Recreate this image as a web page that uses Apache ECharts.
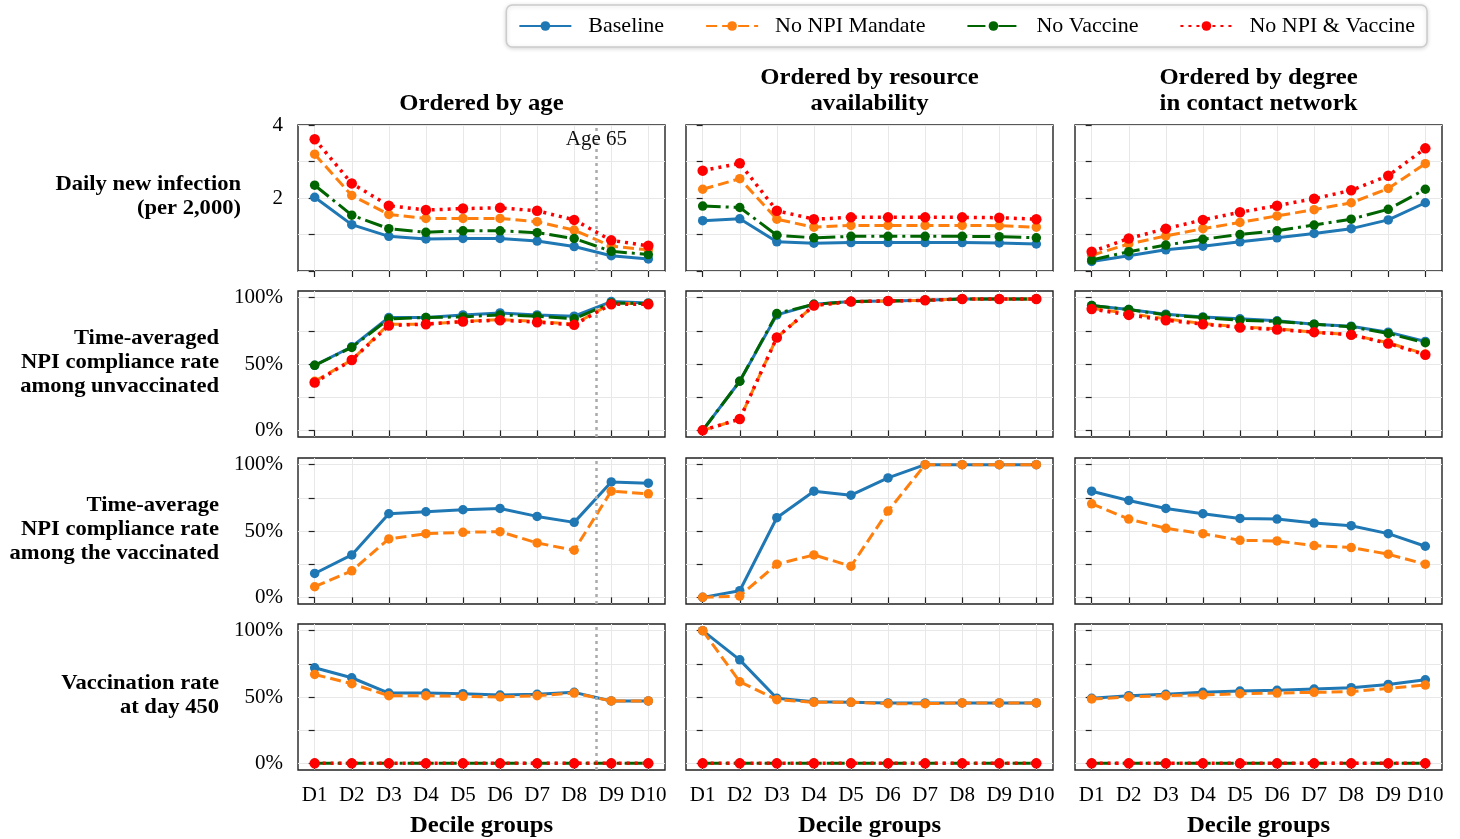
<!DOCTYPE html>
<html>
<head>
<meta charset="utf-8">
<script src="https://cdn.jsdelivr.net/npm/echarts@6/dist/echarts.min.js"></script>
<style>
html,body{margin:0;padding:0;background:#fff;}
#chart{width:1460px;height:839px;}
</style>
</head>
<body>
<div id="chart"></div>
<script>
// ---------- categories / labels ----------
const deciles = ['D1','D2','D3','D4','D5','D6','D7','D8','D9','D10'];
const seriesNames = ['Baseline','No NPI Mandate','No Vaccine','No NPI & Vaccine'];
const colTitles = ['Ordered by age','Ordered by resource\navailability','Ordered by degree\nin contact network'];
const rowLabels = ['Daily new infection\n(per 2,000)','Time-averaged\nNPI compliance rate\namong unvaccinated','Time-average\nNPI compliance rate\namong the vaccinated','Vaccination rate\nat day 450'];
const xLabel = 'Decile groups';
const infTicks = [0,1,2,3,4];
const infTickLabels = [2,4];
const pctTicks = [0,25,50,75,100];
const pctTickLabels = [0,50,100];
const age65Position = 7.6;
const age65Label = 'Age 65';

// ---------- Row 1: daily new infection (per 2,000) ----------
const infAge_Baseline  = [2.02,1.27,0.95,0.88,0.89,0.89,0.82,0.67,0.42,0.33];
const infAge_NoNPI     = [3.20,2.07,1.55,1.44,1.44,1.44,1.35,1.12,0.68,0.58];
const infAge_NoVaccine = [2.35,1.53,1.16,1.06,1.10,1.10,1.05,0.89,0.54,0.45];
const infAge_NoBoth    = [3.61,2.40,1.79,1.67,1.71,1.73,1.65,1.40,0.84,0.69];

const infRes_Baseline  = [1.38,1.43,0.80,0.76,0.78,0.78,0.78,0.78,0.77,0.74];
const infRes_NoNPI     = [2.24,2.53,1.42,1.20,1.25,1.25,1.25,1.25,1.24,1.20];
const infRes_NoVaccine = [1.78,1.74,0.98,0.91,0.95,0.95,0.95,0.95,0.94,0.91];
const infRes_NoBoth    = [2.75,2.95,1.65,1.42,1.47,1.47,1.47,1.47,1.46,1.42];

const infDeg_Baseline  = [0.26,0.42,0.58,0.68,0.80,0.91,1.03,1.16,1.40,1.87];
const infDeg_NoNPI     = [0.43,0.74,0.96,1.16,1.33,1.51,1.68,1.87,2.26,2.94];
const infDeg_NoVaccine = [0.30,0.53,0.71,0.87,1.00,1.10,1.26,1.42,1.69,2.24];
const infDeg_NoBoth    = [0.53,0.89,1.16,1.40,1.61,1.79,1.98,2.21,2.61,3.36];

// ---------- Row 2: NPI compliance among unvaccinated (%) ----------
const unvAge_Baseline  = [49,63,85,85,87,88.5,87,86,97,96];
const unvAge_NoNPI     = [37,53,80,80,82,83.5,82,80,95.5,95.5];
const unvAge_NoVaccine = [49,62.5,84,85,85.5,87,86,84,96,95.5];
const unvAge_NoBoth    = [36,53,79,80,82,83,81.5,79.5,95,95];

const unvRes_Baseline  = [0,37,87,95,97,97.5,98,99,99,99];
const unvRes_NoNPI     = [0,8.5,70,94,97,97.5,98,99,99,99];
const unvRes_NoVaccine = [0,37,88,95,97,97.5,98,99,99,99];
const unvRes_NoBoth    = [0,8.5,70,94,97,97.5,98,99,99,99];

const unvDeg_Baseline  = [94,91,87.5,85.5,84,82.5,80,78.5,74,67];
const unvDeg_NoNPI     = [92,88,84,80.5,78,76.5,74,72,66,57.5];
const unvDeg_NoVaccine = [94,91,87,85,83,82,80,78,73,66];
const unvDeg_NoBoth    = [91.5,87,83,80,77.5,76,74,72,65.5,57];

// ---------- Row 3: NPI compliance among vaccinated (%) ----------
const vacCmpAge_Baseline = [18,32,63,64.5,66,67,61,56.5,87,86];
const vacCmpAge_NoNPI    = [8,20,44,48,49,49.5,41,35.5,80,78];
const vacCmpRes_Baseline = [0,5,60,80,77,90,100,100,100,100];
const vacCmpRes_NoNPI    = [0,1,25,32,23.5,65,100,100,100,100];
const vacCmpDeg_Baseline = [80,73,67,63,59.5,59,56,54,48,38.5];
const vacCmpDeg_NoNPI    = [70.5,59,52,48,43,42.5,39,37.5,32.5,25];

// ---------- Row 4: vaccination rate at day 450 (%) ----------
const vacAge_Baseline  = [72,64.5,53,53,52.5,51.5,52,53.5,47,47];
const vacAge_NoNPI     = [67,60,51,51,50.5,50,51,53,47,47];
const vacAge_NoVaccine = [0,0,0,0,0,0,0,0,0,0];
const vacAge_NoBoth    = [0,0,0,0,0,0,0,0,0,0];

const vacRes_Baseline  = [100,78,49,46.5,46,45.5,45.5,45.5,45.5,45.5];
const vacRes_NoNPI     = [100,61.5,48,46,46,45,45,45.5,45.5,45.5];
const vacRes_NoVaccine = [0,0,0,0,0,0,0,0,0,0];
const vacRes_NoBoth    = [0,0,0,0,0,0,0,0,0,0];

const vacDeg_Baseline  = [49,51,52,53.5,54.5,55,56,57,59.5,63];
const vacDeg_NoNPI     = [48.5,50,51,51.5,52.5,53,53.5,54,56.5,59];
const vacDeg_NoVaccine = [0,0,0,0,0,0,0,0,0,0];
const vacDeg_NoBoth    = [0,0,0,0,0,0,0,0,0,0];

// ---------- assemble ----------
const panels = [
  [[infAge_Baseline,infAge_NoNPI,infAge_NoVaccine,infAge_NoBoth],
   [infRes_Baseline,infRes_NoNPI,infRes_NoVaccine,infRes_NoBoth],
   [infDeg_Baseline,infDeg_NoNPI,infDeg_NoVaccine,infDeg_NoBoth]],
  [[unvAge_Baseline,unvAge_NoNPI,unvAge_NoVaccine,unvAge_NoBoth],
   [unvRes_Baseline,unvRes_NoNPI,unvRes_NoVaccine,unvRes_NoBoth],
   [unvDeg_Baseline,unvDeg_NoNPI,unvDeg_NoVaccine,unvDeg_NoBoth]],
  [[vacCmpAge_Baseline,vacCmpAge_NoNPI],
   [vacCmpRes_Baseline,vacCmpRes_NoNPI],
   [vacCmpDeg_Baseline,vacCmpDeg_NoNPI]],
  [[vacAge_Baseline,vacAge_NoNPI,vacAge_NoVaccine,vacAge_NoBoth],
   [vacRes_Baseline,vacRes_NoNPI,vacRes_NoVaccine,vacRes_NoBoth],
   [vacDeg_Baseline,vacDeg_NoNPI,vacDeg_NoVaccine,vacDeg_NoBoth]]
];

const FONT = '"Liberation Serif","Times New Roman",serif';
const styles = [
  {color:'#1f77b4', type:'solid',        size:9.5, width:3},
  {color:'#ff7f0e', type:[11,5],         size:9.5, width:3},
  {color:'#006400', type:[18,5,3,5],     size:9.5, width:3},
  {color:'#ff0000', type:[3,5],          size:10.5, width:3.5}
];
const colLeft = [298, 686, 1075];
const rowTop = [125, 291, 458, 624];
const W = 367, H = 146;
const SX = 1.075; // horizontal stretch of the reference's text
const xTickVals = deciles.map((d,i)=>i);

const grids = [], xAxes = [], yAxes = [], series = [], graphics = [];
let gi = 0;
for (let r = 0; r < 4; r++) {
  for (let c = 0; c < 3; c++) {
    grids.push({left: colLeft[c], top: rowTop[r], width: W, height: H,
      show: true, borderColor: '#222', borderWidth: 1.4, backgroundColor: 'rgba(0,0,0,0)'});
    xAxes.push({
      type: 'value', gridIndex: gi, min: -0.45, max: 9.45,
      axisLine: {show: false},
      axisTick: {show: true, customValues: xTickVals, length: 6, lineStyle: {color: '#222', width: 1.2}},
      axisLabel: {show: r === 3, customValues: xTickVals, formatter: v => deciles[Math.round(v)],
        fontFamily: FONT, fontSize: 21, color: '#000', margin: 15},
      splitLine: {show: true, lineStyle: {color: '#e8e8e8', width: 1}}
    });
    if (r === 0) {
      yAxes.push({
        type: 'value', gridIndex: gi, min: 0, max: 4, interval: 1,
        axisLine: {show: false},
        axisTick: {show: true, length: 6, lineStyle: {color: '#222', width: 1.2}},
        axisLabel: {show: c === 0, formatter: v => infTickLabels.includes(v) ? String(v) : '',
          fontFamily: FONT, fontSize: 21, color: '#000', margin: 15},
        splitLine: {show: true, lineStyle: {color: '#e8e8e8', width: 1}}
      });
    } else {
      yAxes.push({
        type: 'value', gridIndex: gi, min: -5, max: 105,
        axisLine: {show: false},
        axisTick: {show: true, customValues: pctTicks, length: 6, lineStyle: {color: '#222', width: 1.2}},
        axisLabel: {show: c === 0, customValues: pctTickLabels, formatter: v => v + '%',
          fontFamily: FONT, fontSize: 21, color: '#000', margin: 15},
        splitLine: {show: true, lineStyle: {color: '#e8e8e8', width: 1}}
      });
    }
    const arrs = panels[r][c];
    arrs.forEach((arr, k) => {
      const st = styles[k];
      const s = {
        name: seriesNames[k], type: 'line', xAxisIndex: gi, yAxisIndex: gi,
        data: arr.map((v, i) => [i, v]),
        symbol: 'circle', symbolSize: st.size, showSymbol: true,
        itemStyle: {color: st.color},
        lineStyle: {color: st.color, width: st.width, type: st.type},
        emphasis: {disabled: true}, animation: false, z: 2 + k
      };
      if (c === 0 && k === 0) {
        s.markLine = {
          silent: true, symbol: 'none', animation: false,
          label: {show: false},
          lineStyle: {color: '#aaaaaa', type: [3, 4], width: 2.5},
          data: [{xAxis: age65Position}]
        };
        if (r === 0) {
          s.markPoint = {
            silent: true, animation: false,
            data: [{coord: [age65Position, 3.6], symbol: 'circle', symbolSize: 0,
              label: {show: true, formatter: age65Label, position: 'inside',
                fontFamily: FONT, fontSize: 21, color: '#111'}}]
          };
        }
      }
      series.push(s);
    });
    gi++;
  }
}

// column titles and x-axis names
colTitles.forEach((t, c) => {
  graphics.push({type: 'text', x: colLeft[c] + W / 2, y: 117, scaleX: SX,
    style: {text: t, x: 0, y: 0, align: 'center', verticalAlign: 'bottom',
      fontFamily: FONT, fontWeight: 'bold', fontSize: 23, lineHeight: 26, fill: '#000'}});
  graphics.push({type: 'text', x: colLeft[c] + W / 2, y: 826, scaleX: SX,
    style: {text: xLabel, x: 0, y: 0, align: 'center', verticalAlign: 'middle',
      fontFamily: FONT, fontWeight: 'bold', fontSize: 23, fill: '#000'}});
});
// row labels
const rowLabelRight = [241, 219, 219, 219];
rowLabels.forEach((t, r) => {
  graphics.push({type: 'text', x: rowLabelRight[r], y: rowTop[r] + H / 2 - 1, scaleX: SX,
    style: {text: t, x: 0, y: 0, align: 'right', verticalAlign: 'middle',
      fontFamily: FONT, fontWeight: 'bold', fontSize: 21, lineHeight: 24, fill: '#000'}});
});

const chart = echarts.init(document.getElementById('chart'), null, {renderer: 'canvas'});
chart.setOption({
  animation: false,
  backgroundColor: '#fff',
  legend: {
    data: seriesNames, top: 5, right: 33, orient: 'horizontal',
    itemWidth: 52, itemHeight: 12, itemGap: 41,
    padding: [10, 12], borderColor: '#cccccc', borderWidth: 1.5, borderRadius: 6,
    backgroundColor: '#fff', shadowBlur: 4, shadowColor: 'rgba(0,0,0,0.15)', shadowOffsetY: 1,
    textStyle: {fontFamily: FONT, fontSize: 22, color: '#000', padding: [3, 0, 0, 12]}
  },
  grid: grids, xAxis: xAxes, yAxis: yAxes, series: series,
  graphic: graphics
});
</script>
</body>
</html>
